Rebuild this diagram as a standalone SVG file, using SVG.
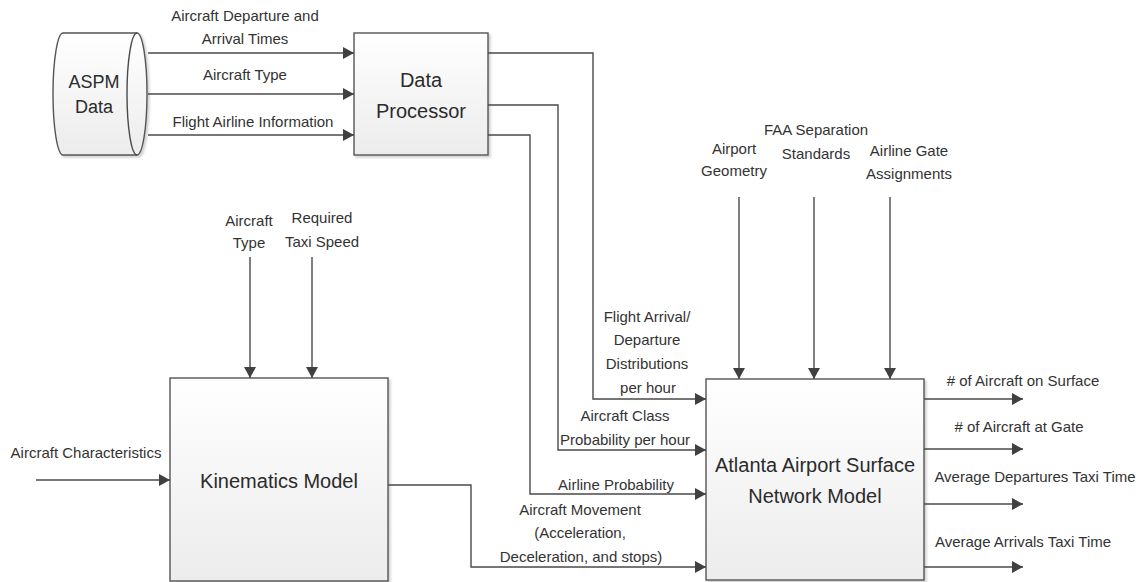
<svg xmlns="http://www.w3.org/2000/svg" width="1143" height="582" viewBox="0 0 1143 582">
  <style>
    .lbl { font-family: "Liberation Sans", Arial, sans-serif; font-size: 15px; fill: #333; text-anchor: middle; }
    .big { font-family: "Liberation Sans", Arial, sans-serif; font-size: 20px; fill: #2b2b2b; text-anchor: middle; }
    .mid { font-family: "Liberation Sans", Arial, sans-serif; font-size: 18px; fill: #2b2b2b; text-anchor: middle; }
    .box { fill: url(#boxFill); stroke: #555; stroke-width: 1.4; filter: url(#shadow); }
    .wire { fill: none; stroke: #4a4a4a; stroke-width: 1.4; }
    .arrow { fill: none; stroke: #4a4a4a; stroke-width: 1.4; marker-end: url(#head); }
  </style>
  <defs>
    <linearGradient id="boxFill" x1="0" y1="0" x2="0" y2="1">
      <stop offset="0" stop-color="#ffffff"/>
      <stop offset="1" stop-color="#ececec"/>
    </linearGradient>
    <filter id="shadow" x="-5%" y="-5%" width="115%" height="115%">
      <feDropShadow dx="2" dy="2" stdDeviation="1.2" flood-color="#000" flood-opacity="0.18"/>
    </filter>
    <marker id="head" markerUnits="userSpaceOnUse" markerWidth="12" markerHeight="12" refX="11" refY="6" orient="auto">
      <path d="M0,0 L11,6 L0,12 Z" fill="#404040"/>
    </marker>
  </defs>

  <rect width="1143" height="582" fill="#ffffff"/>

  <!-- Data source: ASPM cylinder -->
  <g id="aspm">
    <path class="box" d="M63,33 H137 A10,61 0 0 1 137,155 H63 A10,61 0 0 1 63,33 Z"/>
    <path class="wire" d="M137,155 A10,61 0 0 1 137,33"/>
    <text class="mid" x="94" y="88">ASPM</text>
    <text class="mid" x="94" y="113">Data</text>
  </g>

  <!-- Data Processor -->
  <g id="data-processor">
    <rect class="box" x="354" y="33" width="134" height="122"/>
    <text class="big" x="421" y="87">Data</text>
    <text class="big" x="421" y="118">Processor</text>
  </g>

  <!-- Kinematics Model -->
  <g id="kinematics-model">
    <rect class="box" x="170" y="378" width="218" height="203"/>
    <text class="big" x="279" y="488">Kinematics Model</text>
  </g>

  <!-- Atlanta Airport Surface Network Model -->
  <g id="surface-model">
    <rect class="box" x="706" y="379" width="218" height="201"/>
    <text class="big" x="815" y="472">Atlanta Airport Surface</text>
    <text class="big" x="815" y="503">Network Model</text>
  </g>

  <!-- Connectors -->
  <g id="connectors">
    <!-- ASPM to Data Processor -->
    <path class="arrow" d="M148,53 H354"/>
    <path class="arrow" d="M148,94 H354"/>
    <path class="arrow" d="M148,135 H354"/>

    <!-- Data Processor to surface model -->
    <path class="arrow" d="M488,53 H593 V399 H706"/>
    <path class="arrow" d="M488,105 H558 V450 H706"/>
    <path class="arrow" d="M488,135 H530 V494 H706"/>

    <!-- Kinematics to surface model -->
    <path class="arrow" d="M388,485 H471 V567 H706"/>

    <!-- Kinematics inputs -->
    <path class="arrow" d="M250,257 V378"/>
    <path class="arrow" d="M312,257 V378"/>
    <path class="arrow" d="M36,480 H170"/>

    <!-- Surface model inputs from above -->
    <path class="arrow" d="M739,197 V379"/>
    <path class="arrow" d="M814,197 V379"/>
    <path class="arrow" d="M890,197 V379"/>

    <!-- Surface model outputs -->
    <path class="arrow" d="M924,399 H1023"/>
    <path class="arrow" d="M924,449 H1023"/>
    <path class="arrow" d="M924,504 H1023"/>
    <path class="arrow" d="M924,567 H1023"/>
  </g>

  <!-- Connector labels -->
  <g id="labels">
    <text class="lbl" x="245" y="21">Aircraft Departure and</text>
    <text class="lbl" x="245" y="44">Arrival Times</text>
    <text class="lbl" x="245" y="80">Aircraft Type</text>
    <text class="lbl" x="253" y="127">Flight Airline Information</text>

    <text class="lbl" x="249" y="226">Aircraft</text>
    <text class="lbl" x="249" y="248">Type</text>
    <text class="lbl" x="322" y="223">Required</text>
    <text class="lbl" x="322" y="247">Taxi Speed</text>
    <text class="lbl" x="86" y="458">Aircraft Characteristics</text>

    <text class="lbl" x="734" y="154">Airport</text>
    <text class="lbl" x="734" y="176">Geometry</text>
    <text class="lbl" x="816" y="135">FAA Separation</text>
    <text class="lbl" x="816" y="159">Standards</text>
    <text class="lbl" x="909" y="156">Airline Gate</text>
    <text class="lbl" x="909" y="179">Assignments</text>

    <text class="lbl" x="647" y="322">Flight Arrival/</text>
    <text class="lbl" x="647" y="345">Departure</text>
    <text class="lbl" x="647" y="369">Distributions</text>
    <text class="lbl" x="648" y="393">per hour</text>
    <text class="lbl" x="625" y="421">Aircraft Class</text>
    <text class="lbl" x="625" y="445">Probability per hour</text>
    <text class="lbl" x="616" y="490">Airline Probability</text>
    <text class="lbl" x="580" y="515">Aircraft Movement</text>
    <text class="lbl" x="580" y="538">(Acceleration,</text>
    <text class="lbl" x="581" y="562">Deceleration, and stops)</text>

    <text class="lbl" x="1023" y="386"># of Aircraft on Surface</text>
    <text class="lbl" x="1019" y="432"># of Aircraft at Gate</text>
    <text class="lbl" x="1035" y="482">Average Departures Taxi Time</text>
    <text class="lbl" x="1023" y="547">Average Arrivals Taxi Time</text>
  </g>
</svg>
